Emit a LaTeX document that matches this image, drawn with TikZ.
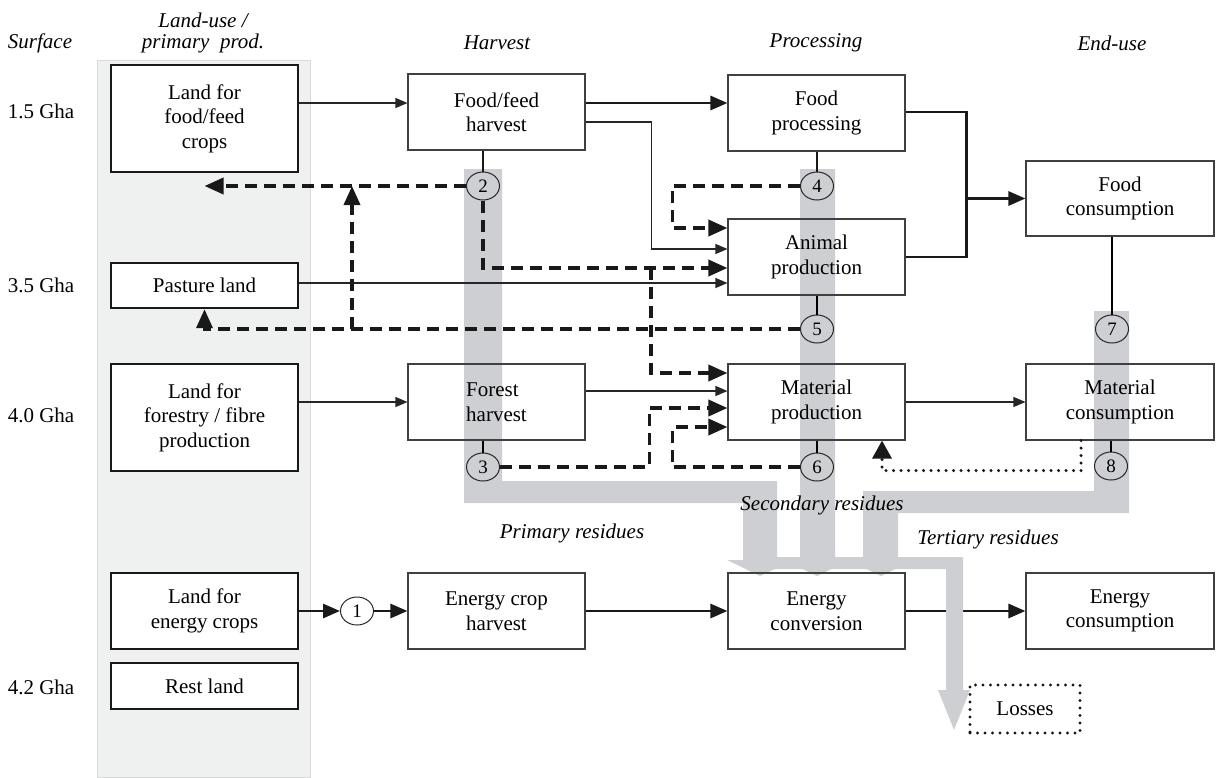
\documentclass[tikz,border=0pt]{standalone}
\usepackage{fontspec}
\setmainfont{Liberation Serif}
\usetikzlibrary{arrows.meta,shapes.geometric}
\definecolor{bandgray}{RGB}{206,207,210}
\definecolor{landgray}{RGB}{239,240,240}

\begin{document}
\begin{tikzpicture}[x=1pt,y=-1pt,
  font=\fontsize{21}{24.5}\selectfont,
  landbox/.style={draw=black!90,fill=white,line width=2.4pt,align=center,minimum width=187pt,inner sep=2pt},
  procbox/.style={draw=black!75,line width=1.1pt,align=center,minimum width=177pt,minimum height=76pt,inner sep=2pt},
  ring/.style={draw=black!85,ellipse,line width=1pt,minimum width=33pt,minimum height=28pt,inner sep=0pt,font=\fontsize{19}{19}\selectfont},
  hdr/.style={font=\fontsize{21}{21}\selectfont\itshape,align=center},
  thinarr/.style={draw=black!85,line width=1.1pt,-{Triangle[length=12pt,width=10pt]}},
  thickline/.style={draw=black!90,line width=2.8pt},
  thickarr/.style={thickline,-{Triangle[length=17pt,width=14pt]}},
  dasharr/.style={draw=black!90,line width=3.6pt,dash pattern=on 12pt off 7pt,-{Triangle[length=19pt,width=16pt]}},
  dotarr/.style={draw=black!90,line width=3.4pt,line cap=round,dash pattern=on 0pt off 7.5pt,-{Triangle[length=18pt,width=19pt]}},
  band/.style={fill=bandgray,draw=none}]
  \useasboundingbox (0,0) rectangle (1217,777);

  % land-use column
  \draw[fill=landgray,draw=black!15] (97,60) rectangle (310,777);

  % residue flows
  \fill[band] (464,169) -- (502,169) -- (502,481) -- (777,481) -- (777,560) -- (793,560) -- (760,576)
    -- (727,560) -- (743,560) -- (743,503) -- (464,503) -- cycle;
  \fill[band] (800,169) -- (835,169) -- (835,560) -- (850,560) -- (817,576) -- (784,560) -- (800,560) -- cycle;
  \fill[band] (1094,311) -- (1129,311) -- (1129,513) -- (898,513) -- (898,560) -- (914,560) -- (881,576)
    -- (848,560) -- (863,560) -- (863,491) -- (1094,491) -- cycle;

  % headers
  \node[hdr] (hsurf) at (40,43) {Surface};
  \node[hdr] (hland) at (203,33) {Land-use /\\primary\ \ prod.};
  \node[hdr] (hharv) at (497,43) {Harvest};
  \node[hdr] (hproc) at (816,43) {Processing};
  \node[hdr] (hend) at (1112,43) {End-use};
  \node (s1) at (41,111) {1.5 Gha};
  \node (s2) at (41,285) {3.5 Gha};
  \node (s3) at (41,415) {4.0 Gha};
  \node (s4) at (41,687) {4.2 Gha};

  \node[landbox,minimum height=107pt] (landfood) at (204.5,118.5) {Land for\\food/feed\\crops};
  \node[landbox,minimum height=45pt] (pasture) at (204.5,285.5) {Pasture land};
  \node[landbox,minimum height=107pt] (landforest) at (204.5,417.5) {Land for\\forestry / fibre\\production};
  \node[landbox,minimum height=76pt] (landenergy) at (204.5,611) {Land for\\energy crops};
  \node[landbox,minimum height=46pt] (restland) at (204.5,686) {Rest land};

  \node[procbox] (foodharvest) at (496.5,112) {Food/feed\\harvest};
  \node[procbox,align=left] (forestharvest) at (496.5,402) {Forest\\harvest};
  \node[procbox] (energyharvest) at (496.5,611) {Energy crop\\harvest};
  \node[procbox] (foodproc) at (816.5,113) {Food\\processing};
  \node[procbox] (animalprod) at (816.5,257) {Animal\\production};
  \node[procbox] (materialprod) at (816.5,402) {Material\\production};
  \node[procbox] (energyconv) at (816.5,611) {Energy\\conversion};
  \node[procbox,minimum width=188pt,minimum height=75pt] (foodcons) at (1120,198.5) {Food\\consumption};
  \node[procbox,minimum width=188pt] (materialcons) at (1120,402) {Material\\consumption};
  \node[procbox,minimum width=188pt] (energycons) at (1120,611) {Energy\\consumption};
  \node[draw=black!90,line width=3.4pt,line cap=round,dash pattern=on 0pt off 7.5pt,
    minimum width=110pt,minimum height=48pt] (losses) at (1025,709) {Losses};

  \node[ring] (c1) at (357,611) {1};
  \node[ring] (c2) at (483,186) {2};
  \node[ring] (c3) at (483,467) {3};
  \node[ring] (c4) at (817,186) {4};
  \node[ring] (c5) at (817,329) {5};
  \node[ring] (c6) at (817,467) {6};
  \node[ring] (c7) at (1112,329) {7};
  \node[ring] (c8) at (1111,466) {8};

  \node[hdr] (lprim) at (572,533) {Primary residues};
  \node[hdr] (lsec) at (822,505) {Secondary residues};
  \node[hdr] (lter) at (988,539) {Tertiary residues};

  % main flows
  \draw[thinarr] ([yshift=9pt]landfood.east |- foodharvest.west) -- ([yshift=9pt]foodharvest.west);
  \draw[thickarr] ([yshift=10pt]foodproc.west -| foodharvest.east) -- ([yshift=10pt]foodproc.west);
  \draw[thinarr] ([yshift=-10pt]foodharvest.east) -- ++(66,0) |- ([yshift=8pt]animalprod.west);
  \draw[thinarr] ([yshift=-26pt]animalprod.west -| pasture.east) -- ([yshift=-26pt]animalprod.west);
  \draw[thinarr] (landforest.east |- forestharvest.west) -- (forestharvest.west);
  \draw[thinarr] ([yshift=11pt]materialprod.west -| forestharvest.east) -- ([yshift=11pt]materialprod.west);
  \draw[thinarr] (materialprod.east) -- (materialcons.west);
  \draw[thickline] ([yshift=1pt]foodproc.east) -- ++(61,0) |- (animalprod.east);
  \draw[thickarr] ([xshift=61pt]foodproc.east |- foodcons.west) -- (foodcons.west);
  \draw[thickarr] (landenergy.east) -- (c1.west);
  \draw[thickarr] (c1.east) -- (energyharvest.west);
  \draw[thickarr] (energyharvest.east) -- (energyconv.west);
  \draw[thickarr] (energyconv.east) -- (energycons.west);

  % residue taps
  \draw[thickline] (foodharvest.south -| c2) -- (c2);
  \draw[thickline] (foodproc.south -| c4) -- (c4);
  \draw[line width=1.1pt] (animalprod.south -| c5) -- (c5);
  \draw[line width=1.1pt] (foodcons.south -| c7) -- (c7);
  \draw[line width=1.1pt] (forestharvest.south -| c3) -- (c3);
  \draw[line width=1.1pt] (materialprod.south -| c6) -- (c6);
  \draw[line width=1.1pt] (materialcons.south -| c8) -- (c8);

  % recycled flows
  \coordinate (split) at (651,268);
  \coordinate (branch) at (352,329);
  \draw[dasharr] (c2.west) -- (c2.west -| landfood.south);
  \draw[dasharr] (c2.south) |- ([yshift=-11pt]animalprod.west);
  \draw[dasharr] (split) |- ([yshift=29pt]materialprod.west);
  \draw[dasharr] (c4.west) -| ([xshift=-55pt,yshift=29pt]animalprod.west) -- ([yshift=29pt]animalprod.west);
  \draw[dasharr] (c5.west) -| (pasture.south);
  \draw[dasharr] (branch) -- (branch |- c2.west);
  \draw[dasharr] (c3.east) -| ([xshift=-78pt,yshift=-6pt]materialprod.west) -- ([yshift=-6pt]materialprod.west);
  \draw[dasharr] (c6.west) -| ([xshift=-55pt,yshift=-25pt]materialprod.west) -- ([yshift=-25pt]materialprod.west);
  \draw[dotarr] ([xshift=-39pt]materialcons.south) -- ++(0,30) -| ([xshift=65.5pt]materialprod.south);

  % losses
  \fill[band] (750,557) -- (963,557) -- (963,690) -- (970,690) -- (954,730) -- (938,690) -- (946,690)
    -- (946,569) -- (750,569) -- cycle;
\end{tikzpicture}
\end{document}
